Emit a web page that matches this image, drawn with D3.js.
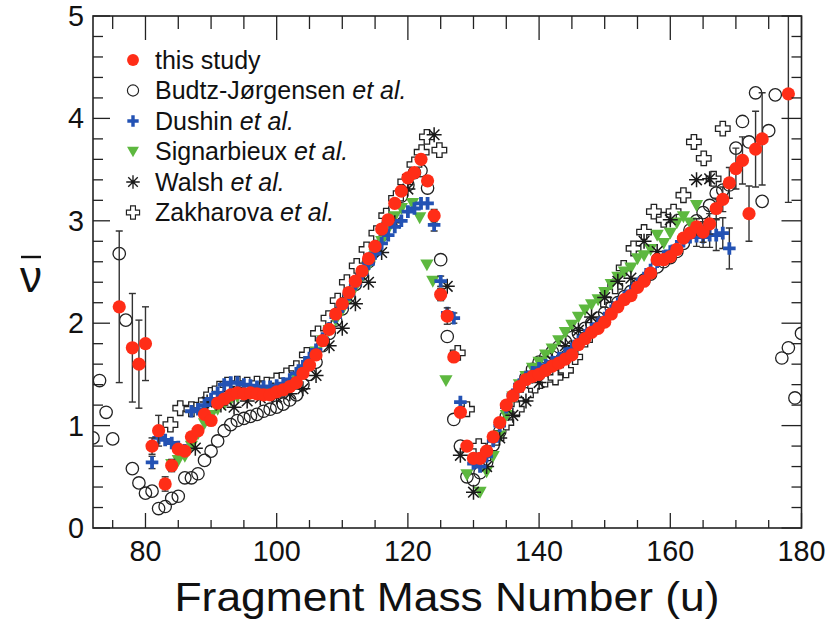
<!DOCTYPE html>
<html><head><meta charset="utf-8">
<script src="https://cdn.jsdelivr.net/npm/d3@7"></script>
<style>body{margin:0;background:#fff}svg{display:block}</style>
</head><body>
<svg id="c" width="829" height="619"></svg>
<script>
// ---------- data ----------
const studyMass = [76,78,79,80,81,82,83,84,85,86,87,88,89,90,91,92,93,94,95,96,97,98,99,100,101,102,103,104,105,106,107,108,109,110,111,112,113,114,115,116,117,118,119,120,121,122,123,124,125,126,127,128,129,130,131,132,133,134,135,136,137,138,139,140,141,142,143,144,145,146,147,148,149,150,151,152,153,154,155,156,157,158,159,160,161,162,163,164,165,166,167,168,169,170,171,172,173,174,178];
const studyNu = [2.16,1.76,1.60,1.80,0.80,0.95,0.43,0.61,0.77,0.75,0.89,0.95,1.11,1.05,1.22,1.26,1.30,1.32,1.31,1.32,1.31,1.30,1.30,1.33,1.35,1.38,1.42,1.51,1.59,1.69,1.83,1.94,2.09,2.19,2.30,2.41,2.51,2.63,2.75,2.92,3.01,3.17,3.29,3.42,3.47,3.60,3.39,3.05,2.28,2.07,1.67,1.13,0.80,0.68,0.68,0.75,0.89,1.03,1.20,1.29,1.38,1.45,1.48,1.50,1.54,1.58,1.61,1.65,1.69,1.79,1.85,1.91,1.95,2.01,2.09,2.16,2.23,2.27,2.35,2.41,2.49,2.62,2.62,2.65,2.72,2.83,2.88,2.94,2.89,2.97,3.12,3.21,3.37,3.51,3.59,3.07,3.70,3.80,4.24];
const studyErrMass = [76,78,79,80,81,82,83,84,124,125,126,164,165,166,167,168,169,170,171,172,173,174,178];
const studyErr = [0.74,0.53,0.43,0.36,0.08,0.15,0.07,0.06,0.06,0.06,0.08,0.08,0.10,0.10,0.10,0.12,0.15,0.20,0.23,0.27,0.37,0.45,1.06];

const budtzMass = [72,73,74,75,76,77,78,79,80,81,82,83,84,85,86,87,88,89,90,91,92,93,94,95,96,97,98,99,100,101,102,103,104,105,106,107,108,109,110,111,112,113,114,115,116,117,118,119,120,121,122,123,125,126,127,128,129,130,131,132,133,134,135,136,137,138,139,140,141,142,143,144,145,146,147,148,149,150,151,152,153,154,155,156,157,158,159,160,161,162,163,164,165,166,167,168,169,170,171,172,173,174,175,176,177,178,179,180];
const budtzNu = [0.88,1.44,1.13,0.87,2.68,2.03,0.58,0.44,0.34,0.36,0.19,0.21,0.29,0.31,0.49,0.49,0.53,0.66,0.75,0.85,0.95,1.01,1.05,1.07,1.09,1.11,1.14,1.16,1.18,1.21,1.25,1.30,1.40,1.50,1.62,1.78,1.90,2.03,2.14,2.26,2.38,2.48,2.60,2.72,2.86,2.98,3.12,3.24,3.35,3.47,3.49,3.32,2.62,1.87,1.06,0.80,0.50,0.47,0.54,0.64,0.81,0.94,1.09,1.22,1.35,1.47,1.55,1.62,1.67,1.72,1.77,1.82,1.86,1.90,1.95,2.00,2.05,2.10,2.15,2.20,2.26,2.31,2.37,2.42,2.48,2.55,2.60,2.64,2.70,2.78,2.91,3.00,3.08,3.15,3.27,3.30,3.35,3.71,3.97,3.77,4.25,3.19,3.88,4.23,1.66,1.76,1.27,1.90];

const dushinMass = [81,82,83,84,85,86,87,88,89,90,91,92,93,94,95,96,97,98,99,100,101,102,103,104,105,106,107,108,109,110,111,112,113,114,115,116,117,118,119,120,121,122,123,124,125,126,127,128,130,131,132,133,134,135,136,137,138,139,140,141,142,143,144,145,146,147,148,149,150,151,152,153,154,155,156,157,158,159,160,161,162,163,164,165,166,167,168,169];
const dushinNu = [0.64,0.88,0.86,0.83,0.79,0.76,1.14,1.16,1.20,1.26,1.32,1.40,1.42,1.42,1.40,1.39,1.38,1.38,1.38,1.39,1.41,1.45,1.51,1.58,1.66,1.74,1.85,1.95,2.06,2.16,2.28,2.38,2.48,2.58,2.68,2.78,2.86,2.94,3.00,3.09,3.12,3.17,3.17,2.96,2.41,2.10,2.05,1.23,0.63,0.60,0.70,0.85,1.00,1.18,1.30,1.40,1.47,1.52,1.56,1.59,1.62,1.66,1.70,1.75,1.82,1.88,1.94,1.99,2.05,2.12,2.19,2.25,2.31,2.38,2.44,2.52,2.60,2.65,2.70,2.75,2.80,2.84,2.85,2.84,2.86,2.86,2.88,2.73];
const dushinErrMass = [81,124,125,127,164,165,166,167,168,169];
const dushinErr = [0.06,0.06,0.05,0.05,0.10,0.10,0.12,0.15,0.15,0.20];

const signMass = [84,85,86,87,88,89,90,91,92,93,94,95,96,97,98,99,100,101,102,103,104,105,106,107,108,109,110,111,112,113,114,115,116,117,118,119,120.7,121.8,122.9,123.8,125.8,129,131,132,133,134,135,136,137,138,139,140,141,142,143,144,145,146,147,148,149,150,151,152,153,154,155,156,157,158,159,160,161,162,163,164];
const signNu = [0.62,0.66,0.70,0.80,0.92,1.02,1.10,1.16,1.21,1.25,1.28,1.30,1.31,1.31,1.32,1.33,1.34,1.36,1.40,1.46,1.53,1.62,1.72,1.83,1.93,2.03,2.13,2.24,2.35,2.45,2.56,2.67,2.80,2.92,3.04,3.12,3.17,3.03,2.57,2.41,1.44,0.52,0.35,0.55,0.70,0.90,1.10,1.28,1.40,1.48,1.56,1.62,1.69,1.75,1.83,1.91,1.98,2.06,2.13,2.18,2.23,2.30,2.38,2.45,2.50,2.54,2.63,2.66,2.72,2.86,2.78,2.88,2.98,3.04,2.98,3.15];

const walshMass = [87.6,89.4,91.5,93.5,95.5,97.5,100,102,104,106,108,110,112,114,116,118,120,124,126,128,130,132,134,136,138,140,142,144,146,148,150,152,154,156,158,160,164,166];
const walshNu = [0.78,1.23,1.20,1.18,1.24,1.27,1.28,1.31,1.36,1.49,1.78,1.95,2.19,2.40,2.69,2.98,3.31,3.84,2.36,0.71,0.35,0.60,0.88,1.10,1.24,1.42,1.63,1.78,1.93,2.06,2.25,2.41,2.44,2.80,2.70,3.01,3.40,3.41];

const zakMass = [83.8,85.3,87,88.5,90,91.3,92.5,94,95.5,97,98.5,100,101.5,103,104.6,106.3,107.9,109.3,110.7,112.2,113.7,115.2,116.7,118.2,119.6,121,122.1,122.9,124.8,127.6,129,130.8,132.2,133.5,135,136.6,138,139.4,140.9,142.5,144.1,145.5,147,148.3,149.8,151.6,152.9,154.4,156,157.5,159,160.5,162,163.6,165.1,166.6,168];
const zakNu = [1.01,1.17,1.16,1.20,1.30,1.36,1.40,1.41,1.40,1.41,1.40,1.44,1.49,1.56,1.69,1.90,2.05,2.22,2.40,2.56,2.72,2.88,3.05,3.22,3.38,3.55,3.67,3.82,3.69,1.71,1.16,0.80,0.73,0.88,1.03,1.16,1.30,1.39,1.45,1.47,1.54,1.67,1.84,1.98,2.23,2.36,2.54,2.73,2.89,3.09,3.01,3.09,3.25,3.77,3.61,3.41,3.90];

const xTicks = [80,100,120,140,160,180];
const yTicks = [0,1,2,3,4,5];
const legendLabels = [["this study",""],["Budtz-J\u00f8rgensen ","et al."],["Dushin ","et al."],["Signarbieux ","et al."],["Walsh ","et al."],["Zakharova ","et al."]];

// ---------- chart ----------
const svg = d3.select("#c");
const L=93, R=801.5, T=16, B=528;
const x = d3.scaleLinear().domain([72,180]).range([L,R]);
const y = d3.scaleLinear().domain([0,5]).range([B,T]);
const FONT = "'Liberation Sans', Arial, Helvetica, sans-serif";
const RED="#ff2d17", BLUE="#2352b4", GREEN="#5db83f";

svg.append("defs").append("clipPath").attr("id","clip")
  .append("rect").attr("x",L).attr("y",T).attr("width",R-L).attr("height",B-T);
const plot = svg.append("g").attr("clip-path","url(#clip)");

function zip(m,v){ return m.map((d,i)=>({m:d,v:v[i]})); }

function errBars(mass, nu, emass, err, color){
  const data = emass.map((m,i)=>({m, v: nu[mass.indexOf(m)], e: err[i]}));
  const g = plot.append("g").attr("stroke",color).attr("stroke-width",1.4).attr("fill","none");
  data.forEach(d=>{
    const cx=x(d.m), y1=y(d.v-d.e), y2=y(d.v+d.e);
    g.append("line").attr("x1",cx).attr("x2",cx).attr("y1",y1).attr("y2",y2);
    g.append("line").attr("x1",cx-3.5).attr("x2",cx+3.5).attr("y1",y1).attr("y2",y1);
    g.append("line").attr("x1",cx-3.5).attr("x2",cx+3.5).attr("y1",y2).attr("y2",y2);
  });
}

const painters = {
  circleOpen(g){ g.append("circle").attr("r",6.2).attr("fill","none").attr("stroke","#222").attr("stroke-width",1.3); },
  crossOpen(g){ g.append("path").attr("d","M-2.7,-7.3H2.7V-2.7H7.3V2.7H2.7V7.3H-2.7V2.7H-7.3V-2.7H-2.7Z")
      .attr("fill","#fff").attr("stroke","#222").attr("stroke-width",1.3); },
  triDown(g){ g.append("path").attr("d","M-6.6,-5.4L6.6,-5.4L0,6.5Z").attr("fill",GREEN); },
  star(g){ g.append("path").attr("d","M0,-7.5V7.5M-7.5,0H7.5M-5.3,-5.3L5.3,5.3M-5.3,5.3L5.3,-5.3")
      .attr("stroke","#1a1a1a").attr("stroke-width",1.5).attr("fill","none"); },
  plus(g){ g.append("path").attr("d","M0,-6.3V6.3M-6.3,0H6.3").attr("stroke",BLUE).attr("stroke-width",3.8).attr("fill","none"); },
  dot(g){ g.append("circle").attr("r",6.6).attr("fill",RED); }
};

function series(mass, nu, painter){
  const g = plot.append("g");
  g.selectAll("g").data(zip(mass,nu)).join("g")
    .attr("transform",d=>`translate(${x(d.m)},${y(d.v)})`)
    .each(function(){ painters[painter](d3.select(this)); });
}

series(budtzMass, budtzNu, "circleOpen");
series(zakMass, zakNu, "crossOpen");
series(signMass, signNu, "triDown");
series(walshMass, walshNu, "star");
errBars(dushinMass, dushinNu, dushinErrMass, dushinErr, "#333");
series(dushinMass, dushinNu, "plus");
errBars(studyMass, studyNu, studyErrMass, studyErr, "#333");
series(studyMass, studyNu, "dot");

// frame
svg.append("rect").attr("x",L).attr("y",T).attr("width",R-L).attr("height",B-T)
  .attr("fill","none").attr("stroke","#222").attr("stroke-width",1.6);

// ticks
const tg = svg.append("g").attr("stroke","#222").attr("stroke-width",1.3);
d3.range(75,181,5).forEach(v=>{
  const major = v%20===0;
  const px = x(v);
  tg.append("line").attr("x1",px).attr("x2",px).attr("y1",B).attr("y2",B-(major?15:8));
  tg.append("line").attr("x1",px).attr("x2",px).attr("y1",T).attr("y2",T+(major?24:13));
});
d3.range(0,5.001,0.2).forEach(v=>{
  const major = Math.abs(v-Math.round(v))<1e-6;
  const py = y(v);
  tg.append("line").attr("x1",L).attr("x2",L+(major?17:10)).attr("y1",py).attr("y2",py);
  tg.append("line").attr("x1",R).attr("x2",R-(major?20:10)).attr("y1",py).attr("y2",py);
});

// tick labels
svg.append("g").selectAll("text").data(xTicks).join("text")
  .attr("x",d=>x(d)).attr("y",561).attr("text-anchor","middle")
  .attr("font-family",FONT).attr("font-size",30).attr("fill","#111")
  .attr("textLength",d=>String(d).length*16).attr("lengthAdjust","spacingAndGlyphs")
  .text(d=>d);
svg.append("g").selectAll("text").data(yTicks).join("text")
  .attr("x",84).attr("y",d=>y(d)+10).attr("text-anchor","end")
  .attr("font-family",FONT).attr("font-size",30).attr("fill","#111")
  .attr("textLength",16).attr("lengthAdjust","spacingAndGlyphs")
  .text(d=>d);

// axis titles
svg.append("text").attr("x",447).attr("y",611).attr("text-anchor","middle")
  .attr("font-family",FONT).attr("font-size",41).attr("fill","#111")
  .attr("textLength",545).attr("lengthAdjust","spacingAndGlyphs")
  .text("Fragment Mass Number (u)");
const yt = svg.append("g").attr("transform","translate(31,0)");
yt.append("text").attr("x",0).attr("y",292).attr("text-anchor","middle")
  .attr("font-family",FONT).attr("font-size",44).attr("fill","#111")
  .text("\u03bd");
yt.append("line").attr("x1",-10).attr("x2",10).attr("y1",257).attr("y2",257)
  .attr("stroke","#111").attr("stroke-width",2.4);

// legend
const lg = svg.append("g");
const legendPainters = ["dot","circleOpen","plus","triDown","star","crossOpen"];
legendLabels.forEach((lab,i)=>{
  const yy = 60 + i*30.5;
  const m = lg.append("g").attr("transform",`translate(133,${yy}) scale(0.9)`);
  painters[legendPainters[i]](m);
  const t = lg.append("text").attr("x",155).attr("y",yy+8.5)
    .attr("font-family",FONT).attr("font-size",25).attr("fill","#111");
  t.append("tspan").text(lab[0]);
  if(lab[1]) t.append("tspan").attr("font-style","italic").text(lab[1]);
});
</script>
</body></html>
